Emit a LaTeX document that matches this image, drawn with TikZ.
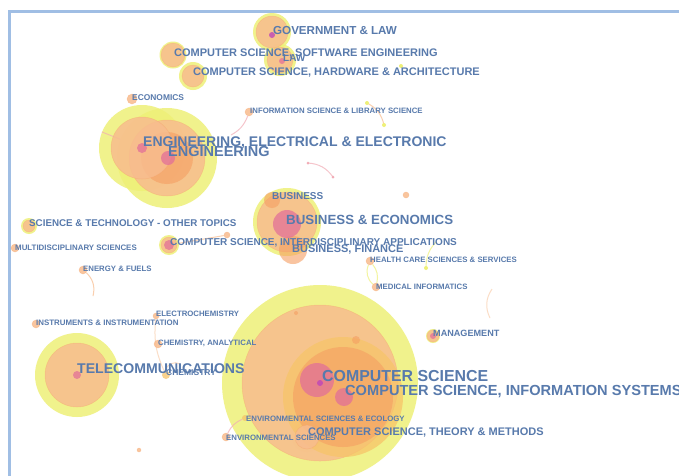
\documentclass[tikz,border=0pt]{standalone}
\usepackage{fontspec}
\setmainfont{Liberation Sans}
\definecolor{ringyellow}{RGB}{238,240,120}
\definecolor{ringorange}{RGB}{248,188,142}
\definecolor{midorange}{RGB}{247,196,105}
\definecolor{deeporange}{RGB}{245,158,98}
\definecolor{ringpink}{RGB}{226,112,152}
\definecolor{dotpurple}{RGB}{190,70,185}
\definecolor{labelblue}{RGB}{88,122,172}
\definecolor{frameblue}{RGB}{160,190,228}
\definecolor{linkpink}{RGB}{242,172,182}

\begin{document}
\begin{tikzpicture}[x=1pt, y=-1pt,
  yring/.style={circle, inner sep=0, fill=ringyellow, fill opacity=.85, minimum size=#1},
  oring/.style={circle, inner sep=0, fill=ringorange, fill opacity=.85, draw=deeporange, draw opacity=.35, line width=.5pt, minimum size=#1},
  mring/.style={circle, inner sep=0, fill=midorange, fill opacity=.75, minimum size=#1},
  dring/.style={circle, inner sep=0, fill=deeporange, fill opacity=.6, minimum size=#1},
  pring/.style={circle, inner sep=0, fill=ringpink, fill opacity=.75, minimum size=#1},
  hub/.style={circle, inner sep=0, fill=dotpurple, fill opacity=.8, minimum size=#1},
  link/.style={draw=linkpink, line width=1pt, draw opacity=.7},
  lbl/.style={anchor=west, inner sep=0, text=labelblue, text height=.716em, text depth=0pt,
    font=\bfseries\fontsize{#1}{#1}\selectfont}]
\clip (0,0) rectangle (679,475);
\fill[white] (0,0) rectangle (679,475);
\draw[frameblue, line width=3pt] (9.5,490) -- (9.5,11.5) -- (700,11.5);

% outer rings
\node[yring=196] (cs) at (320,383) {};
\node[yring=100] (eng) at (167,158) {};
\node[yring=86]  (eee) at (142,148) {};
\node[yring=84]  (telecom) at (77,375) {};
\node[yring=68]  (bizeco) at (287,222) {};
\node[yring=38]  (gov) at (272,32) {};
\node[yring=32]  (law) at (280,60) {};
\node[yring=27]  (cssw) at (173,55) {};
\node[yring=28]  (cshw) at (193,76) {};
\node[yring=30]  (cstm) at (307,437) {};
\node[yring=20]  (csia) at (169,245) {};
\node[yring=16]  (scitech) at (29,226) {};
\node[yring=14]  (mgmt) at (433,336) {};

% links
\coordinate (isEnd) at (231,135);
\coordinate (arcA) at (367,103);
\coordinate (arcB) at (384,125);
\coordinate (arcC) at (308,163);
\coordinate (arcD) at (333,177);
\coordinate (enEnd) at (93,296);
\coordinate (hcTop) at (436,242);
\coordinate (paleA) at (492,289);
\coordinate (paleB) at (490,318);
\coordinate (chemArc) at (180,364);
\node[oring=8] (infsci) at (249,112) {};
\node[oring=8] (energy) at (83,270) {};
\node[oring=8] (health) at (370,261) {};
\node[oring=8] (medinf) at (376,287) {};
\node[oring=6] (echem) at (156,316) {};
\node[oring=8] (chemana) at (158,344) {};
\node[mring=8] (chem) at (166,375) {};
\node[oring=8] (envsci) at (226,437) {};
\node[mring=6] (enveco) at (245,418) {};
\node[circle, inner sep=0, fill=ringyellow, minimum size=4] (hcDot) at (426,268) {};
\draw[link] (infsci) to[bend left=20] (isEnd);
\draw[link, draw=ringorange] (arcA) to[bend left=25] (arcB);
\draw[link] (arcC) to[bend left=25] (arcD);
\draw[link, draw=ringorange] (energy) to[bend left=30] (enEnd);
\draw[link, draw=ringyellow] (health) to[bend right=35] (medinf);
\draw[link, draw=ringyellow] (health) to[bend left=25] (medinf);
\draw[link, draw=ringyellow] (hcDot) to[bend left=20] (hcTop);
\draw[link, draw=ringorange, draw opacity=.5] (paleA) to[bend right=30] (paleB);
\draw[link, draw=ringorange, draw opacity=.5] (echem) to[bend right=15] (chem);
\draw[link, draw=ringorange, draw opacity=.5] (chem) to[bend left=60] (chemArc);
\draw[link] (envsci) to[bend left=20] (enveco);
\draw[link] (eee) -- (eng);
\foreach \p in {arcA, arcB} \fill[ringyellow] (\p) circle (2);
\foreach \p in {arcC, arcD} \fill[linkpink] (\p) circle (1.5);

% inner rings
\node[oring=156] (csIn) at (320,383) {};
\node[mring=120] (csis) at (343,397) {};
\node[dring=100] (csisIn) at (343,397) {};
\node[oring=76] (engIn) at (167,158) {};
\node[dring=52] (engCore) at (167,158) {};
\node[oring=62] (eeeIn) at (142,148) {};
\node[oring=64] (telIn) at (77,375) {};
\node[oring=60] (bizIn) at (287,222) {};
\node[oring=32] (govIn) at (272,32) {};
\node[oring=26] (lawIn) at (280,60) {};
\node[oring=24] (csswIn) at (173,55) {};
\node[oring=22] (cshwIn) at (193,76) {};
\node[oring=24] (cstmIn) at (307,437) {};
\node[oring=16] (csiaIn) at (169,245) {};
\node[oring=12] (scitechIn) at (29,226) {};
\node[oring=12] (mgmtIn) at (433,336) {};
\node[oring=10] (econ) at (132,99) {};
\node[oring=8] (multi) at (15,248) {};
\node[oring=8] (instr) at (36,324) {};
\node[dring=16] (biz) at (272,200) {};
\node[dring=28] (bizfin) at (293,250) {};
\node[oring=6] (dotA) at (406,195) {};
\node[oring=6] (dotB) at (227,235) {};
\node[dring=8] (dotC) at (356,340) {};
\node[dring=4] (dotD) at (296,313) {};
\node[oring=4] (dotE) at (139,450) {};
\node[circle, inner sep=0, fill=ringyellow, minimum size=4] (dotF) at (401,66) {};
\draw[link, draw=ringorange] (csia) -- (dotB);

% centres
\node[pring=34] (csCore) at (317,380) {};
\node[pring=18] (csisCore) at (344,397) {};
\node[pring=28] (bizCore) at (287,224) {};
\node[pring=14] (engDot) at (168,158) {};
\node[pring=10] (eeeDot) at (142,148) {};
\node[pring=10] (csiaDot) at (169,245) {};
\node[pring=8] (telDot) at (77,375) {};
\node[hub=6] (csHub) at (320,383) {};
\node[hub=6] (govHub) at (272,35) {};
\node[pring=6] (lawHub) at (282,61) {};
\node[pring=6] (mgmtHub) at (433,336) {};

% labels
\node[lbl=11.6] (govL) at (273,31) {GOVERNMENT \& LAW};
\node[lbl=11] (csswL) at (174,53) {COMPUTER SCIENCE, SOFTWARE ENGINEERING};
\node[lbl=10] (lawL) at (283,58) {LAW};
\node[lbl=11] (cshwL) at (193,72) {COMPUTER SCIENCE, HARDWARE \& ARCHITECTURE};
\node[lbl=8.4] (econL) at (132,97) {ECONOMICS};
\node[lbl=7.8] (infsciL) at (250,110) {INFORMATION SCIENCE \& LIBRARY SCIENCE};
\node[lbl=14] (eeeL) at (143,143) {ENGINEERING, ELECTRICAL \& ELECTRONIC};
\node[lbl=14.5] (engL) at (168,153) {ENGINEERING};
\node[lbl=10] (bizL) at (272,196) {BUSINESS};
\node[lbl=13.3] (bizecoL) at (286,221) {BUSINESS \& ECONOMICS};
\node[lbl=9.8] (scitechL) at (29,223) {SCIENCE \& TECHNOLOGY - OTHER TOPICS};
\node[lbl=11] (bizfinL) at (292,249) {BUSINESS, FINANCE};
\node[lbl=10] (csiaL) at (170,242) {COMPUTER SCIENCE, INTERDISCIPLINARY APPLICATIONS};
\node[lbl=7.9] (multiL) at (15,247) {MULTIDISCIPLINARY SCIENCES};
\node[lbl=7.8] (healthL) at (370,259) {HEALTH CARE SCIENCES \& SERVICES};
\node[lbl=7.8] (energyL) at (83,268) {ENERGY \& FUELS};
\node[lbl=7.8] (medinfL) at (376,286) {MEDICAL INFORMATICS};
\node[lbl=7.8] (echemL) at (156,313) {ELECTROCHEMISTRY};
\node[lbl=7.9] (instrL) at (36,322) {INSTRUMENTS \& INSTRUMENTATION};
\node[lbl=9.1] (mgmtL) at (433,333) {MANAGEMENT};
\node[lbl=7.8] (chemanaL) at (158,342) {CHEMISTRY, ANALYTICAL};
\node[lbl=14.1] (telecomL) at (77,370) {TELECOMMUNICATIONS};
\node[lbl=8.5] (chemL) at (166,372) {CHEMISTRY};
\node[lbl=15.9] (csL) at (322,378) {COMPUTER SCIENCE};
\node[lbl=14.6] (csisL) at (345,392) {COMPUTER SCIENCE, INFORMATION SYSTEMS};
\node[lbl=7.8] (envecoL) at (246,418) {ENVIRONMENTAL SCIENCES \& ECOLOGY};
\node[lbl=11] (cstmL) at (308,432) {COMPUTER SCIENCE, THEORY \& METHODS};
\node[lbl=7.8] (envsciL) at (226,437) {ENVIRONMENTAL SCIENCES};
\end{tikzpicture}
\end{document}
